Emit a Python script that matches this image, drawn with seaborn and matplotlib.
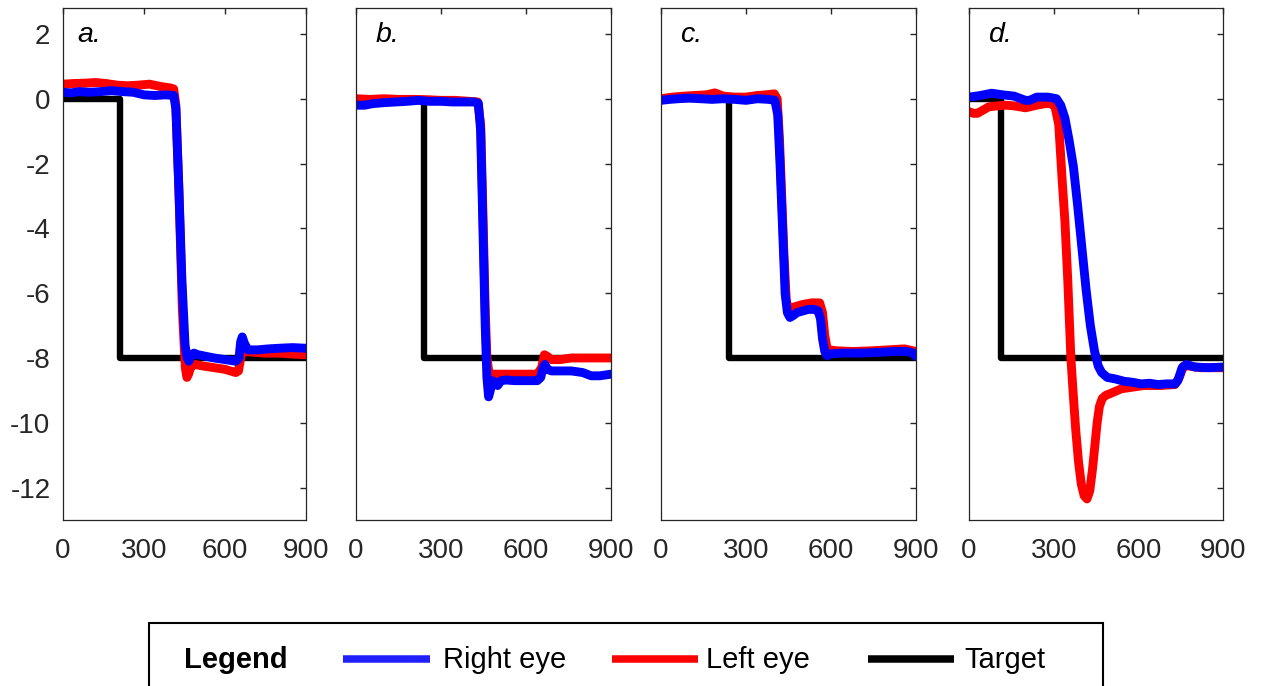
import numpy as np
import pandas as pd
import matplotlib
matplotlib.use("Agg")
import matplotlib.pyplot as plt
from matplotlib.patches import Rectangle
from matplotlib.lines import Line2D
import seaborn as sns

# ---------------- data ----------------
panel_labels = ["a.", "b.", "c.", "d."]
x_ticks = [0, 300, 600, 900]
y_ticks = [-12, -10, -8, -6, -4, -2, 0, 2]
legend_labels = ["Right eye", "Left eye", "Target"]

# panel a
a_t_target = [0, 212, 212, 900]
a_target = [0, 0, -8, -8]
a_t_right = [0, 30, 60, 100, 140, 180, 220, 260, 300, 340, 380, 410, 418, 428, 440, 452, 460, 466,
             474, 485, 500, 530, 560, 600, 640, 652, 658, 664, 672, 685, 720, 760, 800, 850, 900]
a_right = [0.2, 0.18, 0.22, 0.2, 0.22, 0.25, 0.22, 0.2, 0.12, 0.1, 0.12, 0.1, -0.3, -2.5, -5.5, -7.6, -8.0, -8.1,
           -7.95, -7.85, -7.9, -7.95, -8.0, -8.05, -8.1, -8.0, -7.5, -7.35, -7.55, -7.75, -7.75, -7.72, -7.7, -7.68, -7.7]
a_t_left = [0, 40, 80, 120, 160, 200, 240, 280, 320, 360, 400, 410, 418, 430, 442, 453, 459, 465,
            474, 490, 520, 560, 600, 640, 650, 658, 665, 675, 700, 750, 800, 850, 900]
a_left = [0.45, 0.47, 0.48, 0.5, 0.47, 0.42, 0.4, 0.42, 0.45, 0.38, 0.33, 0.3, -0.2, -3.0, -6.5, -8.3, -8.6, -8.5,
          -8.25, -8.2, -8.25, -8.3, -8.35, -8.45, -8.4, -8.0, -7.8, -7.8, -7.82, -7.85, -7.85, -7.88, -7.9]

# panel b
b_t_target = [0, 241, 241, 900]
b_target = [0, 0, -8, -8]
b_t_right = [0, 30, 60, 100, 140, 180, 220, 260, 300, 340, 380, 420, 432, 440, 448, 456, 462, 468, 474,
             482, 490, 500, 512, 530, 560, 600, 640, 652, 660, 667, 675, 690, 720, 760, 800, 830, 860, 900]
b_right = [-0.2, -0.2, -0.15, -0.12, -0.1, -0.08, -0.05, -0.08, -0.08, -0.1, -0.1, -0.1, -0.15, -1.0, -4.0, -7.0,
           -8.6, -9.2, -9.0, -8.7, -8.75, -8.85, -8.7, -8.68, -8.7, -8.7, -8.7, -8.6, -8.3, -8.2, -8.35, -8.4,
           -8.4, -8.4, -8.45, -8.55, -8.55, -8.5]
b_t_left = [0, 50, 100, 150, 200, 250, 300, 350, 400, 430, 440, 448, 456, 462, 470, 478, 490, 520, 560,
            600, 640, 655, 665, 675, 690, 720, 760, 800, 850, 900]
b_left = [0.0, -0.02, 0.0, -0.02, -0.02, -0.03, -0.05, -0.05, -0.08, -0.1, -0.8, -3.5, -6.5, -8.0, -8.5, -8.5,
          -8.5, -8.5, -8.5, -8.5, -8.5, -8.3, -7.9, -7.95, -8.05, -8.05, -8.0, -8.0, -8.0, -8.0]

# panel c
c_t_target = [0, 241, 241, 900]
c_target = [0, 0, -8, -8]
c_t_right = [0, 30, 60, 100, 140, 180, 220, 260, 300, 340, 380, 402, 412, 420, 430, 438, 446, 455, 465,
             480, 500, 520, 540, 555, 563, 570, 578, 586, 592, 600, 640, 700, 760, 820, 870, 890, 900]
c_right = [-0.05, -0.02, 0.0, 0.02, 0.0, -0.02, 0.0, -0.02, -0.05, 0.0, -0.02, -0.05, -0.5, -2.0, -4.2, -6.0,
           -6.6, -6.75, -6.7, -6.6, -6.55, -6.5, -6.5, -6.55, -6.8, -7.4, -7.8, -7.93, -7.9, -7.87, -7.85,
           -7.85, -7.83, -7.8, -7.8, -7.85, -7.95]
c_t_left = [0, 40, 80, 120, 160, 190, 220, 260, 300, 340, 370, 400, 410, 418, 426, 434, 442, 450, 460,
            480, 500, 530, 560, 570, 578, 586, 594, 620, 680, 740, 800, 860, 900]
c_left = [0.0, 0.05, 0.08, 0.1, 0.12, 0.18, 0.08, 0.05, 0.05, 0.1, 0.12, 0.15, 0.0, -1.2, -3.0, -4.8, -6.2,
          -6.55, -6.45, -6.4, -6.35, -6.3, -6.3, -6.6, -7.3, -7.7, -7.75, -7.78, -7.8, -7.78, -7.75, -7.72, -7.8]

# panel d
d_t_target = [0, 112, 112, 900]
d_target = [0, 0, -8, -8]
d_t_right = [0, 40, 80, 120, 160, 200, 215, 240, 280, 310, 325, 340, 355, 370, 385, 400, 415, 430, 445,
             458, 470, 490, 520, 550, 580, 610, 640, 670, 700, 730, 740, 755, 770, 800, 850, 900]
d_right = [0.05, 0.1, 0.17, 0.12, 0.08, -0.05, -0.05, 0.05, 0.05, 0.0, -0.2, -0.6, -1.3, -2.1, -3.3, -4.6,
           -5.9, -7.0, -7.8, -8.25, -8.45, -8.6, -8.65, -8.72, -8.75, -8.8, -8.78, -8.82, -8.8, -8.8, -8.7,
           -8.3, -8.2, -8.28, -8.3, -8.28]
d_t_left = [0, 15, 30, 50, 70, 100, 130, 160, 200, 240, 270, 290, 305, 318, 330, 340, 350, 361, 370, 378,
            388, 398, 408, 418, 428, 438, 446, 454, 462, 472, 485, 500, 540, 580, 620, 680, 730, 745, 760,
            780, 820, 860, 900]
d_left = [-0.4, -0.45, -0.45, -0.35, -0.25, -0.22, -0.2, -0.22, -0.28, -0.2, -0.15, -0.15, -0.25, -0.8, -2.5,
          -3.8, -5.6, -8.0, -9.2, -10.2, -11.2, -11.9, -12.25, -12.35, -12.1, -11.4, -10.7, -10.0, -9.5,
          -9.25, -9.15, -9.1, -8.95, -8.9, -8.85, -8.85, -8.82, -8.6, -8.25, -8.25, -8.3, -8.3, -8.3]

panels = [
    (a_t_target, a_target, a_t_left, a_left, a_t_right, a_right),
    (b_t_target, b_target, b_t_left, b_left, b_t_right, b_right),
    (c_t_target, c_target, c_t_left, c_left, c_t_right, c_right),
    (d_t_target, d_target, d_t_left, d_left, d_t_right, d_right),
]

# ---------------- style ----------------
sns.set_theme(style="white")
plt.rcParams["font.family"] = ["Liberation Sans", "DejaVu Sans"]

W, H = 1262, 686
fig = plt.figure(figsize=(W / 100, H / 100), dpi=100)

# axes pixel boxes (left, right)
ax_px = [(63, 306), (356, 611), (661, 916), (969, 1223)]
top_px, bot_px = 8, 520
label_x = [0.058, 0.075, 0.075, 0.075]

TXT = "#262626"
for i, ((l, r), data) in enumerate(zip(ax_px, panels)):
    ax = fig.add_axes([l / W, 1 - bot_px / H, (r - l) / W, (bot_px - top_px) / H])
    tt, tv, lt, lv, rt, rv = data
    sns.lineplot(x=tt, y=tv, ax=ax, color="black", linewidth=4.6, sort=False, estimator=None)
    sns.lineplot(x=lt, y=lv, ax=ax, color="#ff0000", linewidth=6.4, sort=False, estimator=None)
    sns.lineplot(x=rt, y=rv, ax=ax, color="#0000ff", linewidth=6.4, sort=False, estimator=None)
    ax.set_xlim(0, 900)
    ax.set_ylim(-13, 2.8)
    ax.set_xticks(x_ticks)
    ax.set_yticks(y_ticks)
    ax.set_xticklabels([str(v) for v in x_ticks])
    if i == 0:
        ax.set_yticklabels([str(v) for v in y_ticks])
    else:
        ax.set_yticklabels([])
    ax.tick_params(direction="in", length=4.5, width=1.0, color=TXT, labelcolor=TXT,
                   top=True, right=True, labelsize=20)
    ax.tick_params(axis="x", pad=13)
    ax.tick_params(axis="y", pad=9)
    for s in ax.spines.values():
        s.set_color(TXT)
        s.set_linewidth(0.9)
    ax.set_xlabel("")
    ax.set_ylabel("")
    ax.text(label_x[i], 0.947, panel_labels[i], transform=ax.transAxes, style="italic",
            fontsize=20.5, va="center", ha="left", color="black")

# ---------------- legend box ----------------
fig.add_artist(Rectangle((149 / W, -0.1), (1103 - 149) / W, 0.1 + (1 - 623 / H),
                         transform=fig.transFigure, fill=False, edgecolor="black", linewidth=1.5))
ty = 1 - 668 / H
ly = 1 - 658.5 / H
fig.text(184 / W, ty, "Legend", fontsize=21, fontweight="bold", va="baseline", ha="left", color="black")
leg_cols = ["#1f1fff", "#ff0000", "#000000"]
leg_lines = [(343, 430), (612, 698), (868, 954)]
leg_text_x = [443, 706, 964]
for col, (x0, x1), tx, lab in zip(leg_cols, leg_lines, leg_text_x, legend_labels):
    fig.add_artist(Line2D([x0 / W, x1 / W], [ly, ly], transform=fig.transFigure, color=col,
                          linewidth=5.4, solid_capstyle="butt"))
    fig.text(tx / W, ty, lab, fontsize=21, va="baseline", ha="left", color="black")

fig.savefig("out.png", dpi=100)
